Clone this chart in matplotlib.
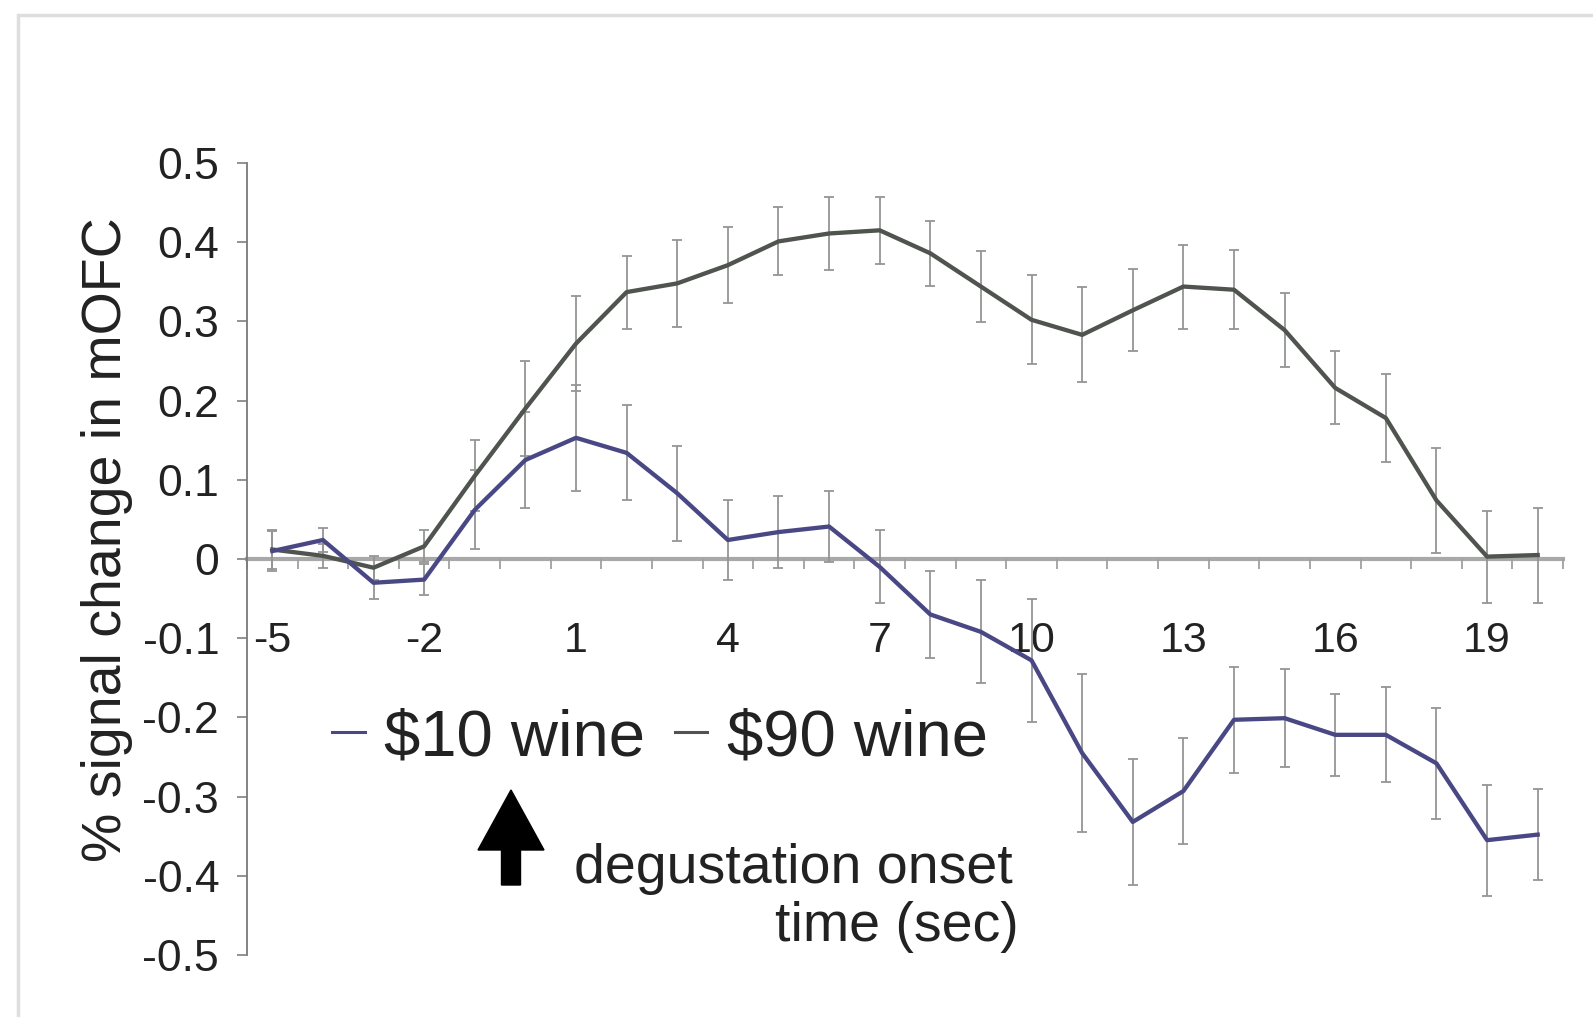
import matplotlib
matplotlib.use("Agg")
import matplotlib.pyplot as plt
from matplotlib.patches import Rectangle, FancyArrow
from matplotlib.ticker import FixedLocator

plt.rcParams['font.family'] = ['Liberation Sans', 'DejaVu Sans']

# Time course (sec relative to degustation onset)
time_sec = list(range(-5, 21))

# % signal change in mOFC, $10 wine
cheap_mean = [0.010, 0.024, -0.030, -0.026, 0.062, 0.125, 0.153, 0.134, 0.083, 0.024,
              0.034, 0.041, -0.010, -0.070, -0.092, -0.128, -0.245, -0.332, -0.293,
              -0.203, -0.201, -0.222, -0.222, -0.258, -0.355, -0.348]
cheap_err = [0.025, 0.015, 0.020, 0.020, 0.050, 0.060, 0.067, 0.060, 0.060, 0.050,
             0.045, 0.045, 0.046, 0.055, 0.065, 0.078, 0.100, 0.080, 0.067,
             0.067, 0.062, 0.052, 0.060, 0.070, 0.070, 0.057]

# % signal change in mOFC, $90 wine
pricey_mean = [0.012, 0.004, -0.011, 0.016, 0.105, 0.190, 0.272, 0.337, 0.348, 0.371,
               0.401, 0.411, 0.415, 0.386, 0.344, 0.302, 0.283, 0.314, 0.344,
               0.340, 0.289, 0.216, 0.178, 0.074, 0.003, 0.005]
pricey_err = [0.025, 0.015, 0.015, 0.020, 0.045, 0.060, 0.060, 0.046, 0.055, 0.048,
              0.043, 0.046, 0.042, 0.041, 0.045, 0.056, 0.060, 0.052, 0.053,
              0.050, 0.047, 0.046, 0.056, 0.066, 0.058, 0.060]

series_labels = ["$10 wine", "$90 wine"]
x_tick_values = [-5, -2, 1, 4, 7, 10, 13, 16, 19]
x_tick_labels = ["-5", "-2", "1", "4", "7", "10", "13", "16", "19"]
y_tick_values = [0.5, 0.4, 0.3, 0.2, 0.1, 0.0, -0.1, -0.2, -0.3, -0.4, -0.5]
y_tick_labels = ["0.5", "0.4", "0.3", "0.2", "0.1", "0", "-0.1", "-0.2", "-0.3", "-0.4", "-0.5"]

W, H = 1593, 1017
fig = plt.figure(figsize=(W / 100, H / 100), dpi=100)
fig.patch.set_facecolor("white")

# light outer frame
fig.add_artist(Rectangle((18 / W, -0.05), 1.2, 1.05 - 15 / H, transform=fig.transFigure,
                         fill=False, edgecolor="#dedede", linewidth=2.5))

ax = fig.add_axes([247 / W, 1 - 955 / H, (1563 - 247) / W, (955 - 163) / H])
ax.set_facecolor("none")

CHEAP_COLOR = "#4a4884"
PRICEY_COLOR = "#4f544f"
ERR_COLOR = "#959595"

ax.errorbar(time_sec, pricey_mean, yerr=pricey_err, fmt="none", ecolor=ERR_COLOR,
            elinewidth=1.3, capsize=3.5, capthick=1.3, zorder=2)
ax.errorbar(time_sec, cheap_mean, yerr=cheap_err, fmt="none", ecolor=ERR_COLOR,
            elinewidth=1.3, capsize=3.5, capthick=1.3, zorder=2)
ln_cheap, = ax.plot(time_sec, cheap_mean, color=CHEAP_COLOR, linewidth=3.1, zorder=4,
                    label=series_labels[0])
ln_pricey, = ax.plot(time_sec, pricey_mean, color=PRICEY_COLOR, linewidth=3.1, zorder=3,
                     label=series_labels[1])

ax.set_xlim(-5.5, 20.5)
ax.set_ylim(-0.5, 0.5)

for side in ("top", "right"):
    ax.spines[side].set_visible(False)
ax.spines["left"].set_color("#7a7a7a")
ax.spines["left"].set_linewidth(1.3)
ax.spines["bottom"].set_position(("data", 0))
ax.spines["bottom"].set_color("#a8a8a8")
ax.spines["bottom"].set_linewidth(3)
ax.spines["bottom"].set_zorder(1)

ax.set_xticks(x_tick_values)
ax.set_xticklabels(x_tick_labels)
ax.xaxis.set_minor_locator(FixedLocator([v + 0.5 for v in range(-6, 21)]))
ax.tick_params(axis="x", which="major", length=0, pad=45, labelsize=31, labelcolor="#222222")
ax.tick_params(axis="x", which="minor", length=7, width=1.3, color="#a0a0a0", direction="out")

ax.set_yticks(y_tick_values)
ax.set_yticklabels(y_tick_labels)
ax.tick_params(axis="y", which="major", length=7, width=1.3, color="#8a8a8a", pad=13,
               labelsize=32, labelcolor="#222222")

fig.text(107 / W, 1 - 540 / H, "% signal change in mOFC", rotation=90, ha="center",
         va="center", fontsize=40, color="#222222")

leg = fig.legend(handles=[ln_cheap, ln_pricey], labels=series_labels, loc="center left",
                 bbox_to_anchor=(332 / W, 1 - 738 / H), bbox_transform=fig.transFigure,
                 ncol=2, frameon=False, fontsize=47, handlelength=0.5, handletextpad=0.3,
                 columnspacing=0.45, borderpad=0, borderaxespad=0)
for t in leg.get_texts():
    t.set_color("#222222")
for h in leg.legend_handles:
    h.set_linewidth(2.2)

# degustation onset marker
fig.add_artist(FancyArrow(511 / 100, (H - 885) / 100, 0, (885 - 790) / 100,
                          width=0.19, head_width=0.66, head_length=0.6,
                          length_includes_head=True, color="black",
                          transform=fig.dpi_scale_trans))
fig.text(574 / W, 1 - 883 / H, "degustation onset", ha="left", va="baseline",
         fontsize=40, color="#222222")
fig.text(1019 / W, 1 - 941 / H, "time (sec)", ha="right", va="baseline",
         fontsize=40, color="#222222")

fig.savefig("out.png", dpi=100, facecolor="white")
